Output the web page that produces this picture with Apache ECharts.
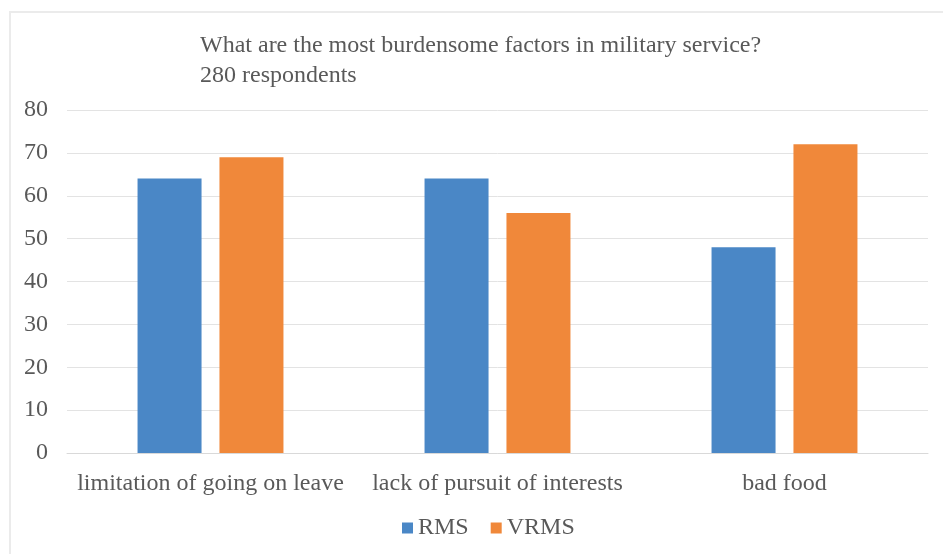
<!DOCTYPE html>
<html>
<head>
<meta charset="utf-8">
<script src="https://cdn.jsdelivr.net/npm/echarts@6/dist/echarts.min.js"></script>
<style>
html,body{margin:0;padding:0;background:#fff;}
#c{width:943px;height:554px;}
</style>
</head>
<body>
<div id="c"></div>
<script>
const categories = ['limitation of going on leave', 'lack of pursuit of interests', 'bad food'];
const rmsValues = [64, 64, 48];
const vrmsValues = [69, 56, 72];
const seriesNames = ['RMS', 'VRMS'];
const titleLines = ['What are the most burdensome factors in military service?', '280 respondents'];

const chart = echarts.init(document.getElementById('c'));
const font = 'Liberation Serif, Times New Roman, serif';
chart.setOption({
  animation: false,
  textStyle: { fontFamily: font },
  graphic: [
    { type: 'line', silent: true, shape: { x1: 9, y1: 12, x2: 943, y2: 12 },
      style: { stroke: '#ebebeb', lineWidth: 2 } },
    { type: 'line', silent: true, shape: { x1: 10, y1: 11, x2: 10, y2: 554 },
      style: { stroke: '#ebebeb', lineWidth: 2 } }
  ],
  title: {
    text: titleLines.join('\n'),
    left: 195, top: 26,
    textStyle: { fontFamily: font, fontSize: 24, fontWeight: 'normal', color: '#595959', lineHeight: 30 }
  },
  legend: {
    data: seriesNames,
    top: 511, left: 397,
    itemWidth: 11, itemHeight: 11, itemGap: 22,
    icon: 'rect',
    textStyle: { fontFamily: font, fontSize: 24, color: '#595959' }
  },
  grid: { left: 67, right: 15, top: 110, bottom: 101, containLabel: false },
  xAxis: {
    type: 'category', data: categories,
    axisLine: { lineStyle: { color: '#d9d9d9' } },
    axisTick: { show: false },
    axisLabel: { fontFamily: font, fontSize: 24, color: '#595959', margin: 19, interval: 0 }
  },
  yAxis: {
    type: 'value', min: 0, max: 80, interval: 10,
    axisLine: { show: false }, axisTick: { show: false },
    splitLine: { lineStyle: { color: '#e3e3e3', width: 1 } },
    axisLabel: { fontFamily: font, fontSize: 24, color: '#595959', margin: 19 }
  },
  series: [
    { name: seriesNames[0], type: 'bar', data: rmsValues, barWidth: 64, barGap: '28%',
      itemStyle: { color: '#4a87c6' } },
    { name: seriesNames[1], type: 'bar', data: vrmsValues, barWidth: 64,
      itemStyle: { color: '#f0883a' } }
  ]
});
</script>
</body>
</html>
